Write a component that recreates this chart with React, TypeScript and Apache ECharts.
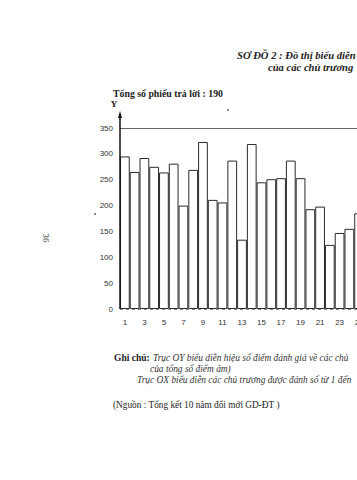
import React, { useEffect, useRef } from "react";
import * as echarts from "echarts";

// Data (chủ trương số 1..25, hiệu số điểm đánh giá)
const categories: string[] = [
  "1", "2", "3", "4", "5", "6", "7", "8", "9", "10", "11", "12", "13",
  "14", "15", "16", "17", "18", "19", "20", "21", "22", "23", "24", "25",
];
const values: number[] = [
  295, 265, 292, 275, 264, 281, 200, 269, 323, 211, 206, 287, 134,
  319, 245, 251, 253, 287, 253, 193, 198, 124, 147, 155, 185,
];
const yMin = 0;
const yMax = 350;
const yInterval = 50;
const referenceLines: number[] = [350, 0];

const titleLine1 = "SƠ ĐỒ 2 : Đồ thị biểu diễn";
const titleLine2 = "của các chủ trương";
const totalText = "Tổng số phiếu trả lời : 190";
const axisName = "Y";
const noteLabel = "Ghi chú:";
const noteLine1 = "Trục OY biểu diễn hiệu số điểm đánh giá về các chủ";
const noteLine2 = "của tổng số điểm âm)";
const noteLine3 = "Trục OX biểu diễn các chủ trương được đánh số từ 1 đến";
const sourceText = "(Nguồn : Tổng kết 10 năm đổi mới GD-ĐT )";
const pageNumber = "36";

const SERIF = '"Liberation Serif", "DejaVu Serif", serif';
const SANS = '"Liberation Sans", Arial, sans-serif';

export default function App() {
  const ref = useRef<HTMLDivElement | null>(null);

  useEffect(() => {
    if (!ref.current) return;
    const chart = echarts.init(ref.current, null, { renderer: "svg" });
    const axisX = 120;
    const baseY = 309;

    chart.setOption({
      animation: false,
      backgroundColor: "#ffffff",
      grid: {
        left: axisX,
        top: 128,
        width: 244,
        height: 181,
        containLabel: false,
        outerBoundsMode: "none",
      },
      xAxis: {
        type: "category",
        data: categories,
        axisLine: { show: false },
        axisTick: { show: false },
        axisLabel: {
          interval: 1,
          margin: 9,
          fontSize: 8,
          fontFamily: SANS,
          color: "#333",
        },
      },
      yAxis: {
        type: "value",
        min: yMin,
        max: yMax,
        interval: yInterval,
        axisLine: { show: false },
        axisTick: { show: false },
        splitLine: { show: false },
        axisLabel: {
          margin: 7,
          fontSize: 8,
          fontFamily: SANS,
          color: "#333",
        },
      },
      series: [
        {
          type: "bar",
          data: values,
          barWidth: "100%",
          barCategoryGap: 0,
          itemStyle: {
            color: "#ffffff",
            borderColor: "#2a2a2a",
            borderWidth: 1,
          },
          markLine: {
            silent: true,
            symbol: "none",
            label: { show: false },
            data: [
              {
                yAxis: referenceLines[0],
                lineStyle: { color: "#666", width: 1, type: "solid" },
              },
              {
                yAxis: referenceLines[1],
                lineStyle: { color: "#888", width: 1, type: [3, 3] },
              },
            ],
          },
        },
      ],
      graphic: [
        {
          type: "line",
          shape: { x1: axisX, y1: baseY, x2: axisX, y2: 115 },
          style: { stroke: "#111", lineWidth: 1.5 },
          z: 10,
        },
        {
          type: "polygon",
          shape: { points: [[axisX - 2, 118], [axisX + 2, 118], [axisX, 111]] },
          style: { fill: "#111" },
          z: 10,
        },
        {
          type: "text",
          x: 114,
          y: 104,
          style: {
            text: axisName,
            font: `bold 9px ${SERIF}`,
            fill: "#222",
            textAlign: "center",
            textVerticalAlign: "middle",
          },
        },
        {
          type: "text",
          x: 113,
          y: 93,
          style: {
            text: totalText,
            font: `bold 9.8px ${SERIF}`,
            fill: "#222",
            textAlign: "left",
            textVerticalAlign: "middle",
          },
        },
        {
          type: "text",
          x: 237,
          y: 55,
          style: {
            text: titleLine1,
            font: `italic bold 10.6px ${SERIF}`,
            fill: "#222",
            textAlign: "left",
            textVerticalAlign: "middle",
          },
        },
        {
          type: "text",
          x: 268,
          y: 67,
          style: {
            text: titleLine2,
            font: `italic bold 10.6px ${SERIF}`,
            fill: "#222",
            textAlign: "left",
            textVerticalAlign: "middle",
          },
        },
        {
          type: "text",
          x: 114,
          y: 358,
          style: {
            text: `{b|${noteLabel}} {i|${noteLine1}}`,
            textAlign: "left",
            textVerticalAlign: "middle",
            fill: "#222",
            rich: {
              b: { fontFamily: SERIF, fontSize: 9.5, fontWeight: "bold", fill: "#222" },
              i: { fontFamily: SERIF, fontSize: 9.4, fontStyle: "italic", fill: "#333" },
            },
          },
        },
        {
          type: "text",
          x: 150,
          y: 369,
          style: {
            text: noteLine2,
            font: `italic 9.4px ${SERIF}`,
            fill: "#333",
            textAlign: "left",
            textVerticalAlign: "middle",
          },
        },
        {
          type: "text",
          x: 137,
          y: 380,
          style: {
            text: noteLine3,
            font: `italic 9.4px ${SERIF}`,
            fill: "#333",
            textAlign: "left",
            textVerticalAlign: "middle",
          },
        },
        {
          type: "text",
          x: 113,
          y: 405,
          style: {
            text: sourceText,
            font: `9.3px ${SERIF}`,
            fill: "#222",
            textAlign: "left",
            textVerticalAlign: "middle",
          },
        },
        {
          type: "text",
          x: 46,
          y: 238,
          rotation: -Math.PI / 2,
          style: {
            text: pageNumber,
            font: `9px ${SERIF}`,
            fill: "#333",
            textAlign: "center",
            textVerticalAlign: "middle",
          },
        },
        {
          type: "circle",
          shape: { cx: 228, cy: 110, r: 0.8 },
          style: { fill: "#444" },
        },
        {
          type: "circle",
          shape: { cx: 95, cy: 214, r: 0.8 },
          style: { fill: "#444" },
        },
      ],
    });

    return () => {
      chart.dispose();
    };
  }, []);

  return (
    <div
      ref={ref}
      style={{ position: "absolute", left: 0, top: 0, width: 357, height: 480 }}
    />
  );
}
